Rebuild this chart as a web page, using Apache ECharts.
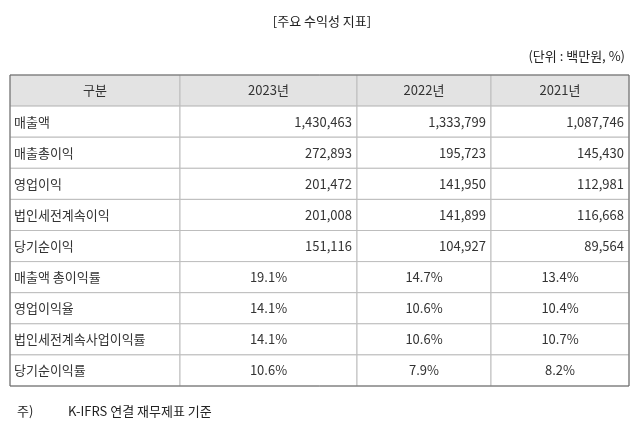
<!DOCTYPE html>
<html><head><meta charset="utf-8">
<script src="https://cdn.jsdelivr.net/npm/echarts@6/dist/echarts.min.js"></script>
<style>html,body{margin:0;padding:0;background:#fff}#c{width:644px;height:438px}</style>
</head><body><div id="c"></div>
<script>
const headers = ['구분', '2023년', '2022년', '2021년'];
const categories = ['매출액','매출총이익','영업이익','법인세전계속이익','당기순이익','매출액 총이익률','영업이익율','법인세전계속사업이익률','당기순이익률'];
const y2023 = ['1,430,463','272,893','201,472','201,008','151,116','19.1%','14.1%','14.1%','10.6%'];
const y2022 = ['1,333,799','195,723','141,950','141,899','104,927','14.7%','10.6%','10.6%','7.9%'];
const y2021 = ['1,087,746','145,430','112,981','116,668','89,564','13.4%','10.4%','10.7%','8.2%'];
const colEdges = [10, 180, 357, 491, 629];

const cols = [categories, y2023, y2022, y2021];
const rowNames = ['h'].concat(categories.map((c,i)=>'r'+i));
const data = [];
for (let r = 0; r < rowNames.length; r++) for (let c = 0; c < 4; c++) {
  const text = r === 0 ? headers[c] : cols[c][r-1];
  data.push([c, r, text]);
}
const FONT = '"Noto Sans CJK KR", "Noto Sans", sans-serif';
const chart = echarts.init(document.getElementById('c'));
chart.setOption({
  animation: false,
  title: [
    {text: '[주요 수익성 지표]', left: 'center', top: 10, textStyle: {fontFamily: FONT, fontSize: 13, fontWeight: 'normal', color: '#222'}},
    {text: '(단위 : 백만원, %)', right: 14, top: 45, textStyle: {fontFamily: FONT, fontSize: 13, fontWeight: 'normal', color: '#222'}},
    {text: '주)', left: 12, top: 400, textStyle: {fontFamily: FONT, fontSize: 13, fontWeight: 'normal', color: '#222'}},
    {text: 'K-IFRS 연결 재무제표 기준', left: 63, top: 400, textStyle: {fontFamily: FONT, fontSize: 13, fontWeight: 'normal', color: '#222'}}
  ],
  grid: {left: 10, right: 15, top: 75, bottom: 52},
  xAxis: {type: 'value', min: 10, max: 629, show: false},
  yAxis: {type: 'category', data: rowNames, inverse: true, show: false},
  series: [{
    type: 'custom',
    data: data,
    renderItem: function (params, api) {
      const c = api.value(0), r = api.value(1);
      const text = data[params.dataIndex][2];
      const x0 = api.coord([colEdges[c], r])[0];
      const x1 = api.coord([colEdges[c+1], r])[0];
      const yc = api.coord([colEdges[c], r])[1];
      const h = api.size([0, 1])[1];
      const y0 = yc - h/2;
      let tx, align;
      const isPct = text.indexOf('%') >= 0;
      if (r === 0) { tx = (x0+x1)/2; align = 'center'; }
      else if (c === 0) { tx = x0 + 4; align = 'left'; }
      else if (isPct) { tx = (x0+x1)/2; align = 'center'; }
      else { tx = x1 - 5; align = 'right'; }
      return {type: 'group', children: [
        {type: 'rect', shape: {x: x0, y: y0, width: x1-x0, height: h},
         style: {fill: r === 0 ? '#e3e3e3' : '#fff', stroke: '#bdbdbd', lineWidth: 1}},
        {type: 'text', style: {x: tx, y: yc, text: text, align: align, verticalAlign: 'middle',
          fill: '#333', font: '13px ' + FONT}}
      ]};
    },
    z: 2
  }],
  graphic: [
    {type: 'rect', shape: {x: 10, y: 75, width: 619, height: 311}, style: {fill: null, stroke: '#666', lineWidth: 1}, z: 100}
  ]
});
</script></body></html>
